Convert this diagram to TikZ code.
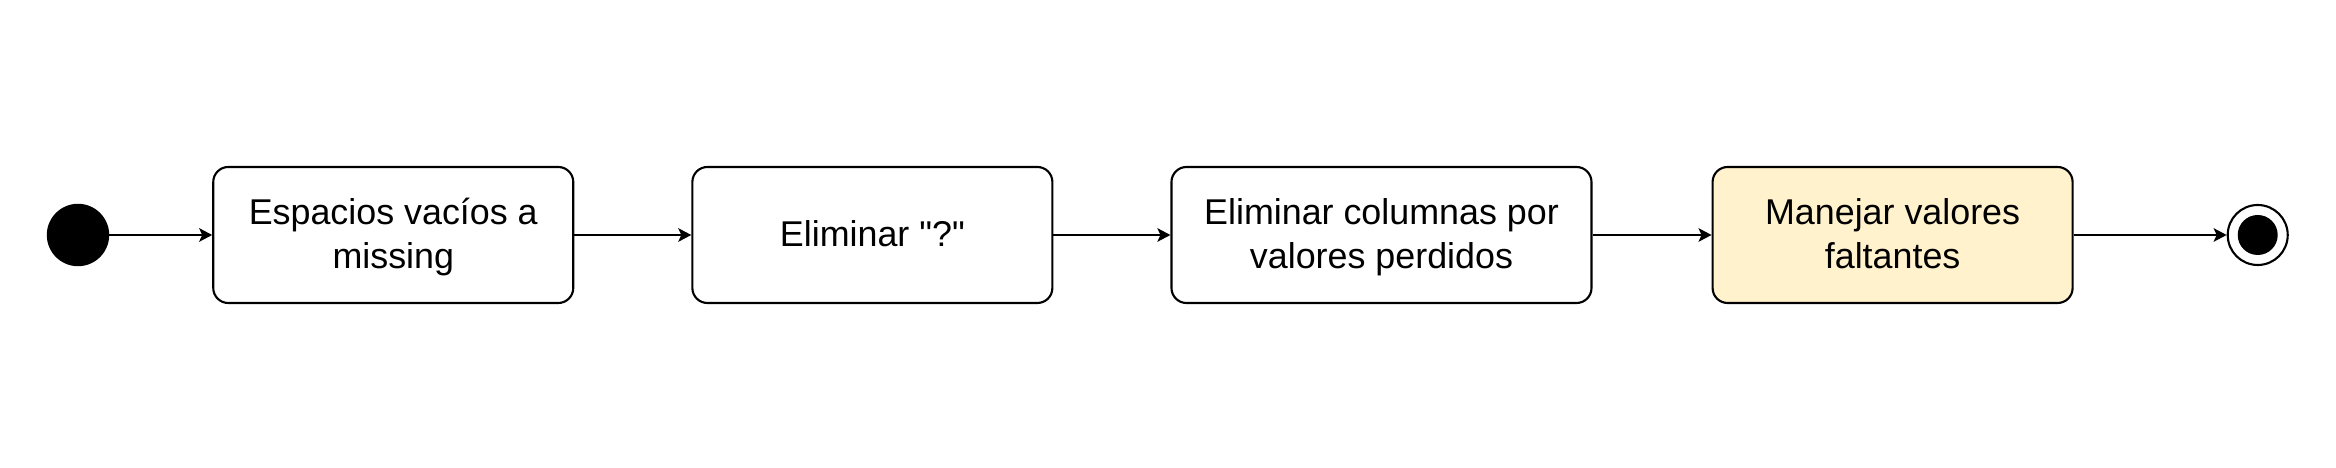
\documentclass[tikz,border=0pt]{standalone}
\usepackage{fontspec}
\setmainfont{Liberation Sans}[Ligatures=TeXOff]
\usetikzlibrary{arrows.meta,positioning}
\definecolor{myYellow}{HTML}{FFF2CC}
\newcommand\myStrutTop{\rule{0pt}{9.3pt}}
\newcommand\myStrutBot{\rule[-2.7pt]{0pt}{2.7pt}}
\tikzset{
myStart/.style={
	circle,draw=black,fill=black,
	inner sep=0pt,minimum size=6.1mm
}
, myEnd/.style={
	circle,draw=black,fill=white,line width=0.6pt,
	inner sep=0pt,minimum size=6mm,
	path picture = {
		\fill[black] (path picture bounding box.center) circle (2mm);
	}
}
, myStep/.style={
	rectangle,rounded corners=1.5mm,draw=black,fill=white,line width=0.6pt,
	minimum width=3.6cm,minimum height=1.36cm,
	inner sep=1pt,align=center,text=black,
	font=\fontsize{10.2}{12.3}\selectfont,
	execute at begin node=\myStrutTop,
	execute at end node=\myStrutBot
}
, myStepHi/.style={myStep,fill=myYellow}
% link
, myFlow/.style={-{Stealth[length=1.3mm,width=1.35mm,inset=0.3mm]},line width=0.6pt}
}

\begin{document}
\begin{tikzpicture}
	\useasboundingbox (0,0) rectangle (23.36,4.68);
	% start / end
	\node[myStart] (Start) at (0.78,2.33) {};
	% steps
	\node[myStep] (Missing) [right=1.03cm of Start] {\myStrutTop Espacios vacíos a\\missing};
	\node[myStep] (Question) [right=1.17cm of Missing] {Eliminar "?"};
	\node[myStep,minimum width=4.2cm] (Columns) [right=1.17cm of Question] {\myStrutTop Eliminar columnas por\\valores perdidos};
	\node[myStepHi] (Handle) [right=1.19cm of Columns] {\myStrutTop Manejar valores\\faltantes};
	\node[myEnd] (End) [right=1.53cm of Handle] {};

	% links
	\draw [myFlow] (Start) -- (Missing);
	\draw [myFlow] (Missing) -- (Question);
	\draw [myFlow] (Question) -- (Columns);
	\draw [myFlow] (Columns) -- (Handle);
	\draw [myFlow] (Handle) -- (End);
\end{tikzpicture}
\end{document}
